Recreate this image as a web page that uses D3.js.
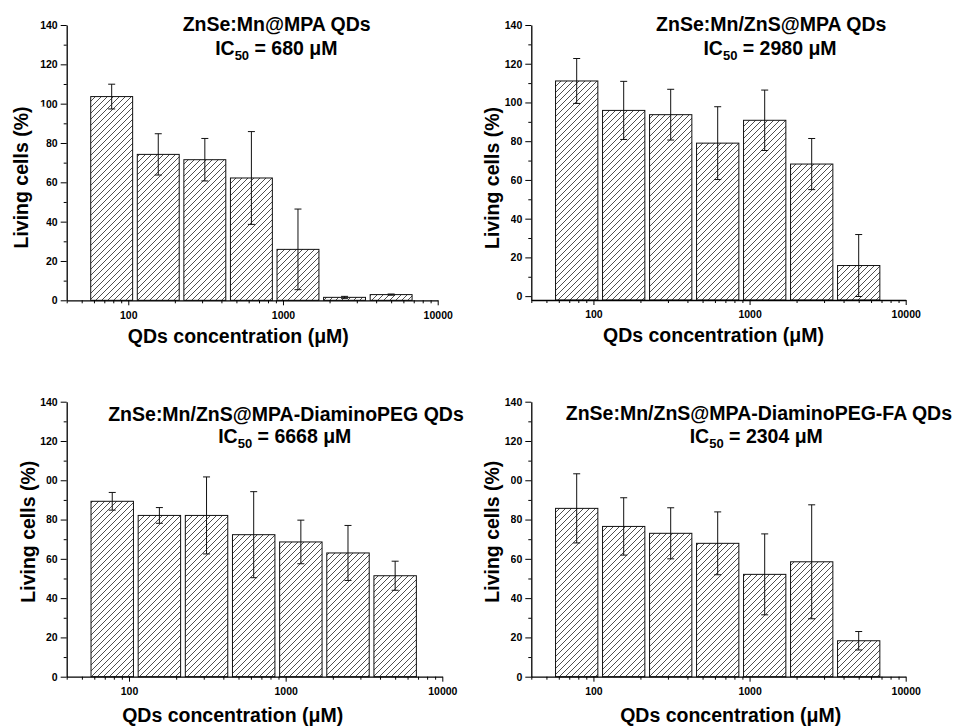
<!DOCTYPE html>
<html>
<head>
<meta charset="utf-8">
<script src="https://cdn.jsdelivr.net/npm/d3@7/dist/d3.min.js"></script>
<style>
html,body{margin:0;padding:0;background:#fff;}
svg{display:block;}
text{font-family:"Liberation Sans",Arial,Helvetica,sans-serif;font-weight:bold;fill:#000;}
</style>
</head>
<body>
<svg id="chart" width="957" height="726"></svg>
<script>
// ---------- data ----------
const concentrations = [78.125, 156.25, 312.5, 625, 1250, 2500, 5000];

const viabilityMPA = [103.6, 74.2, 71.5, 62.2, 25.9, 1.5, 2.9];
const errorMPA     = [6.3, 10.5, 10.8, 23.6, 20.5, 0.5, 0.3];

const viabilityZnS = [111.1, 95.9, 93.7, 79.0, 90.8, 68.2, 15.8];
const errorZnS     = [11.6, 15.0, 13.1, 18.8, 15.6, 13.2, 16.0];

const viabilityPEG = [89.3, 82.1, 82.1, 72.3, 68.6, 63.0, 51.4];
const errorPEG     = [4.5, 4.0, 19.6, 21.9, 11.1, 14.0, 7.4];

const viabilityFA  = [85.7, 76.5, 73.0, 67.9, 52.1, 58.5, 18.3];
const errorFA      = [17.6, 14.6, 13.0, 16.0, 20.6, 29.0, 4.7];

const panelTitles = ["ZnSe:Mn@MPA QDs", "ZnSe:Mn/ZnS@MPA QDs",
                     "ZnSe:Mn/ZnS@MPA-DiaminoPEG QDs", "ZnSe:Mn/ZnS@MPA-DiaminoPEG-FA QDs"];
const ic50Values = ["680", "2980", "6668", "2304"];

const xTickLabels = [100, 1000, 10000];
const yTickLabels = [0, 20, 40, 60, 80, 100, 120, 140];
const xLabel = "QDs concentration (\u03BCM)";
const yLabel = "Living cells (%)";

// ---------- layout ----------
const panels = [
  {v: viabilityMPA, e: errorMPA, xr: [66.7, 437.7], yd: [0, 140], yr: [300.3, 25],
   t1: [276.7, 31.3], t2: [276.3, 54.7], xl: [238.3, 343], yl: [27.5, 177.5]},
  {v: viabilityZnS, e: errorZnS, xr: [531.3, 905.7], yd: [-2, 140], yr: [300, 25],
   t1: [771.2, 31], t2: [770, 54.5], xl: [713.5, 342], yl: [498.7, 178]},
  {v: viabilityPEG, e: errorPEG, xr: [66.7, 442.3], yd: [0, 140], yr: [676.7, 401.7],
   t1: [286, 421], t2: [284.8, 443.3], xl: [232.7, 722], yl: [34.7, 531.7]},
  {v: viabilityFA, e: errorFA, xr: [531.3, 905.7], yd: [0, 140], yr: [676.7, 401.7],
   t1: [758.9, 419.5], t2: [756.3, 442.7], xl: [730.7, 722], yl: [498.7, 531.7]}
];

const svg = d3.select("#chart");
const defs = svg.append("defs");
const pat = defs.append("pattern").attr("id", "hatch")
  .attr("patternUnits", "userSpaceOnUse").attr("width", 6).attr("height", 6);
pat.append("rect").attr("width", 6).attr("height", 6).attr("fill", "#fff");
pat.append("path").attr("d", "M-1,7 L7,-1 M-4,4 L4,-4 M2,10 L10,2")
  .attr("stroke", "#222").attr("stroke-width", 0.8);

const minorX = [];
[10, 100, 1000].forEach(b => { for (let k = 1; k < 10; k++) { const v = b * k; if (v >= 40 && v <= 10000 && !xTickLabels.includes(v)) minorX.push(v); } });
const minorY = [10, 30, 50, 70, 90, 110, 130];
const fs = 19.5;
const logStep = Math.log10(2);

panels.forEach((p, i) => {
  const g = svg.append("g");
  const x = d3.scaleLog().domain([40, 10000]).range(p.xr);
  const y = d3.scaleLinear().domain(p.yd).range(p.yr);
  const baseY = p.yr[0];

  // bars
  const bw = 0.9 * logStep / 2;
  const data = concentrations.map((c, j) => ({c, v: p.v[j], e: p.e[j]}));
  g.selectAll("rect.bar").data(data).enter().append("rect")
    .attr("class", "bar")
    .attr("x", d => x(d.c / Math.pow(10, bw)))
    .attr("width", d => x(d.c * Math.pow(10, bw)) - x(d.c / Math.pow(10, bw)))
    .attr("y", d => y(d.v))
    .attr("height", d => baseY - y(d.v))
    .attr("fill", "url(#hatch)")
    .attr("stroke", "#111").attr("stroke-width", 1);

  // error bars
  const eg = g.selectAll("g.err").data(data).enter().append("g").attr("class", "err")
    .attr("stroke", "#111").attr("stroke-width", 1);
  eg.append("line").attr("x1", d => x(d.c)).attr("x2", d => x(d.c))
    .attr("y1", d => y(d.v + d.e)).attr("y2", d => y(d.v - d.e));
  eg.append("line").attr("x1", d => x(d.c) - 3.5).attr("x2", d => x(d.c) + 3.5)
    .attr("y1", d => y(d.v + d.e)).attr("y2", d => y(d.v + d.e));
  eg.append("line").attr("x1", d => x(d.c) - 3.5).attr("x2", d => x(d.c) + 3.5)
    .attr("y1", d => y(d.v - d.e)).attr("y2", d => y(d.v - d.e));

  // x axis
  const xa = g.append("g").attr("transform", `translate(0,${baseY})`)
    .call(d3.axisBottom(x).tickValues(xTickLabels).tickFormat(d3.format("d")).tickSize(5).tickSizeOuter(0).tickPadding(6));
  g.append("g").attr("transform", `translate(0,${baseY})`)
    .call(d3.axisBottom(x).tickValues(minorX).tickFormat("").tickSize(3).tickSizeOuter(0))
    .select(".domain").remove();
  xa.selectAll("text").style("font-size", "10.5px").style("font-family", null);

  // y axis
  const ya = g.append("g").attr("transform", `translate(${p.xr[0]},0)`)
    .call(d3.axisLeft(y).tickValues(yTickLabels).tickSize(6).tickSizeOuter(0).tickPadding(3));
  g.append("g").attr("transform", `translate(${p.xr[0]},0)`)
    .call(d3.axisLeft(y).tickValues(minorY).tickFormat("").tickSize(3).tickSizeOuter(0))
    .select(".domain").remove();
  ya.selectAll("text").style("font-size", "10.5px").style("font-family", null);
  g.selectAll(".domain").attr("stroke", "#000").attr("stroke-width", 1.3);
  g.selectAll(".tick line").attr("stroke", "#000").attr("stroke-width", 1);
  g.selectAll(".tick text").attr("fill", "#000");

  // y label with white box behind it
  const yt = g.append("text")
    .attr("transform", `translate(${p.yl[0]},${p.yl[1]}) rotate(-90)`)
    .attr("text-anchor", "middle").style("font-size", fs + "px").text(yLabel);
  const bb = yt.node().getBoundingClientRect();
  g.append("rect")
    .attr("x", bb.left).attr("y", bb.top)
    .attr("width", Math.max(0, (p.xr[0] - 20.5) - bb.left)).attr("height", bb.height)
    .attr("fill", "#fff");
  yt.raise();

  // x label
  g.append("text").attr("x", p.xl[0]).attr("y", p.xl[1]).attr("text-anchor", "middle")
    .style("font-size", fs + "px").text(xLabel);

  // titles
  g.append("text").attr("x", p.t1[0]).attr("y", p.t1[1]).attr("text-anchor", "middle")
    .style("font-size", fs + "px").text(panelTitles[i]);
  const t2 = g.append("text").attr("x", p.t2[0]).attr("y", p.t2[1]).attr("text-anchor", "middle")
    .style("font-size", fs + "px");
  t2.append("tspan").text("IC");
  t2.append("tspan").attr("dy", 5).style("font-size", "13px").text("50");
  t2.append("tspan").attr("dy", -5).text(" = " + ic50Values[i] + " \u03BCM");
});
</script>
</body>
</html>
